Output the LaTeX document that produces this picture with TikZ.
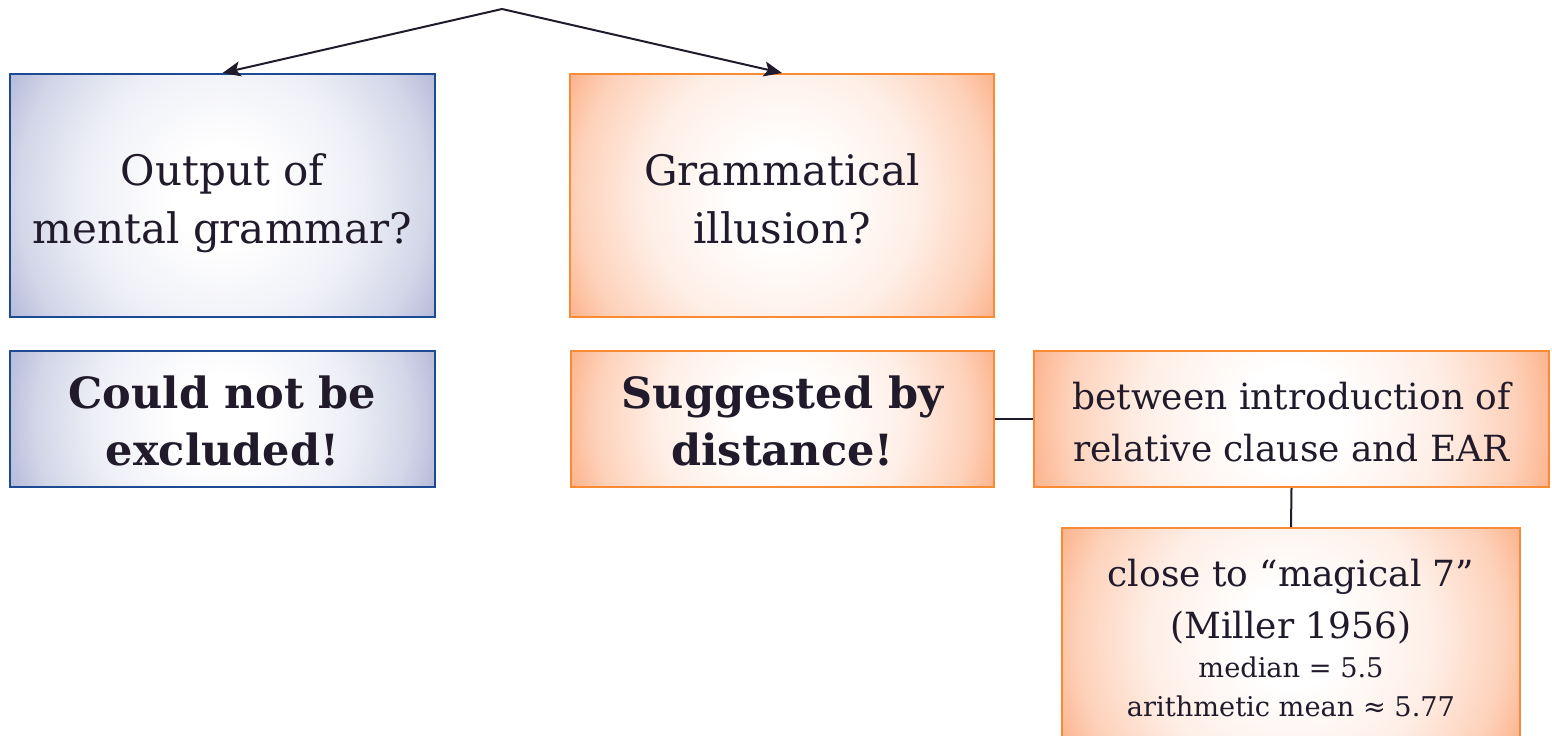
\documentclass[tikz,border=0pt]{standalone}
\usepackage{fontspec}
\setmainfont{DejaVu Serif}
\usetikzlibrary{arrows.meta,calc}
\definecolor{txt}{HTML}{201A2B}
\definecolor{bborder}{HTML}{1C4A93}
\definecolor{bfill}{HTML}{B5BAD9}
\definecolor{oborder}{HTML}{F98B35}
\definecolor{ofill}{HTML}{FCB38C}
\colorlet{bA}{bfill!22!white}
\colorlet{bB}{bfill!60!white}
\colorlet{oA}{ofill!22!white}
\colorlet{oB}{ofill!60!white}
\pgfdeclareradialshading{blueshade}{\pgfpoint{0bp}{0bp}}{color(0bp)=(white); color(5bp)=(white); color(14bp)=(bA); color(21bp)=(bB); color(25bp)=(bfill); color(50bp)=(bfill)}
\pgfdeclareradialshading{orangeshade}{\pgfpoint{0bp}{0bp}}{color(0bp)=(white); color(5bp)=(white); color(14bp)=(oA); color(21bp)=(oB); color(25bp)=(ofill); color(50bp)=(ofill)}
\tikzset{
  box/.style={rectangle, draw, line width=1pt, align=center, text=txt,
    font=\fontsize{21}{29}\selectfont, inner sep=0pt},
  rshade/.style={path picture={\shade[shading=#1] let \p1=($(path picture bounding box.north east)-(path picture bounding box.south west)$), \n1={veclen(\x1,\y1)/2} in (path picture bounding box.center) circle (\n1);}},
  bluebox/.style={box, draw=bborder, rshade=blueshade},
  orangebox/.style={box, draw=oborder, rshade=orangeshade},
  boldtext/.style={font=\fontsize{21.5}{28.5}\selectfont\bfseries},
  conn/.style={draw=txt, line width=1pt},
  arr/.style={conn, -{Stealth[length=9pt,width=7.5pt,inset=2pt]}},
}
\begin{document}
\begin{tikzpicture}[x=0.5pt,y=-0.5pt]
\useasboundingbox (0,0) rectangle (1552,735);
\node[bluebox, minimum width=212.5pt, anchor=north] (A) at (222.5,73)
  {\rule{0pt}{55.5pt}Output of\\mental grammar?\rule[-37pt]{0pt}{0pt}};
\node[orangebox, minimum width=212pt, anchor=north] (B) at (782,73)
  {\rule{0pt}{55.5pt}Grammatical\\illusion?\rule[-37pt]{0pt}{0pt}};
\node[bluebox, boldtext, minimum width=212.5pt, anchor=north] (C) at (222.5,350)
  {\rule{0pt}{28.5pt}Could not be\\excluded!\rule[-11pt]{0pt}{0pt}};
\node[orangebox, boldtext, minimum width=211.5pt, anchor=north] (D) at (782.5,350)
  {\rule{0pt}{28.5pt}Suggested by\\distance!\rule[-11pt]{0pt}{0pt}};
\node[orangebox, minimum width=257.5pt, anchor=north, font=\fontsize{18}{26}\selectfont] (E) at (1291.5,350)
  {\rule{0pt}{29pt}between introduction of\\relative clause and EAR\rule[-13pt]{0pt}{0pt}};
\node[orangebox, minimum width=229pt, anchor=north, font=\fontsize{18}{26}\selectfont] (F) at (1291,527)
  {\rule{0pt}{29pt}close to “magical 7”\\(Miller 1956)\\[-6.5pt]{\fontsize{13.6}{19.5}\selectfont median = 5.5}\\[-6.5pt]{\fontsize{13.6}{19.5}\selectfont arithmetic mean ≈ 5.77}\rule[-15pt]{0pt}{0pt}};
\coordinate (top) at (502,9);
\draw[arr] (top) -- (A.north);
\draw[arr] (top) -- (B.north);
\draw[conn] (D.east) -- (E.west);
\draw[conn] (E.south) -- (F.north);
\end{tikzpicture}
\end{document}
